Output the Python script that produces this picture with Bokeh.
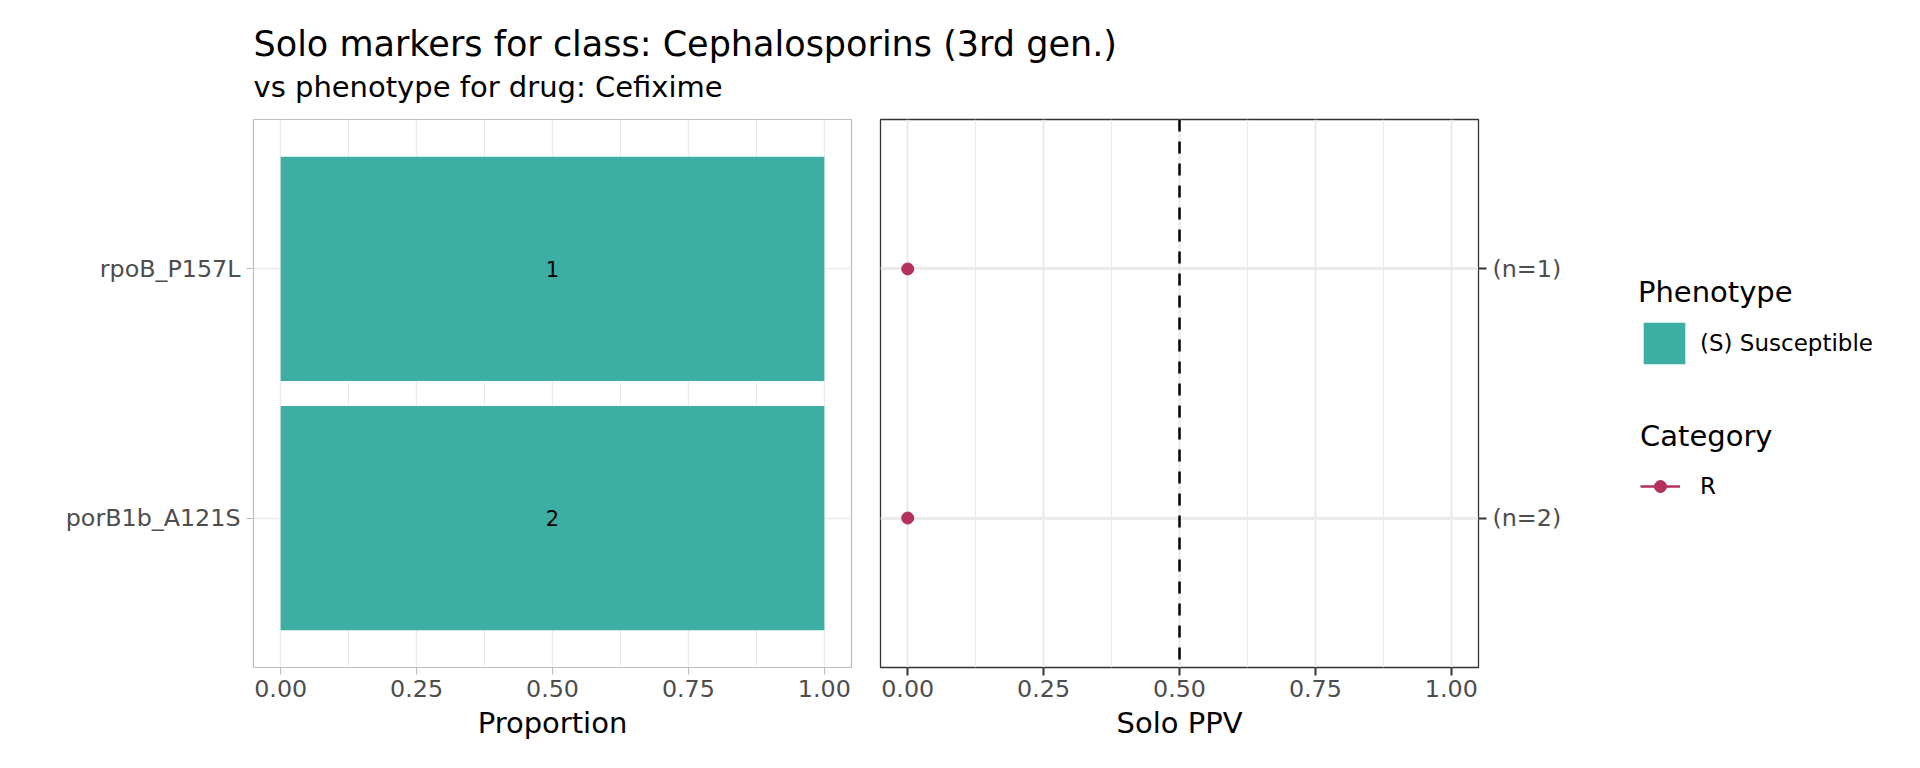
from bokeh.plotting import figure
from bokeh.layouts import column, row
from bokeh.models import (FactorRange, Range1d, FixedTicker, PrintfTickFormatter, Span,
                          Legend, LegendItem, Label, ColumnDataSource, CategoricalAxis)
from bokeh.embed import file_html
from bokeh.resources import INLINE

# ---------------- data ----------------
markers = ["porB1b_A121S", "rpoB_P157L"]          # bottom -> top
proportion_S = [1.0, 1.0]                         # (S) Susceptible proportion
n_counts = [2, 1]
solo_ppv = [0.0, 0.0]
x_ticks = [0.0, 0.25, 0.5, 0.75, 1.0]
x_minor = [0.125, 0.375, 0.625, 0.875]
ppv_threshold = 0.5
phenotype_label = "(S) Susceptible"
category_label = "R"
title_text = "Solo markers for class: Cephalosporins (3rd gen.)"
subtitle_text = "vs phenotype for drug: Cefixime"

TEAL = "#3DAEA4"
MAROON = "#B3305F"
FONT = "DejaVu Sans"
TICK_COL = "#4d4d4d"
TICK_SIZE = "23.8px"

# ---------------- title figure ----------------
tf = figure(width=1900, height=114, x_axis_type=None, y_axis_type=None,
            toolbar_location=None, output_backend="svg", min_border=0,
            x_range=Range1d(0, 1), y_range=Range1d(0, 1))
tf.outline_line_color = None
tf.grid.visible = False
tf.add_layout(Label(x=253, y=71, x_units="screen", y_units="screen", text=title_text,
                    text_font=FONT, text_font_size="35px", text_color="black",
                    text_baseline="alphabetic"))
tf.add_layout(Label(x=253, y=28, x_units="screen", y_units="screen", text=subtitle_text,
                    text_font=FONT, text_font_size="29px", text_color="black",
                    text_baseline="alphabetic"))

# ---------------- left panel ----------------
src = ColumnDataSource(dict(marker=markers, prop=proportion_S,
                            mid=[v * 0.5 for v in proportion_S],
                            lab=[str(n) for n in n_counts], ppv=solo_ppv))

p1 = figure(width=861, height=648, y_range=FactorRange(factors=markers, range_padding=0.1),
            x_range=Range1d(-0.05, 1.05), toolbar_location=None, output_backend="svg",
            min_border_left=253, min_border_right=10, min_border_top=5, min_border_bottom=95)
bars = p1.hbar(y="marker", left=0, right="prop", height=0.9, source=src,
               fill_color=TEAL, line_color=None)
p1.text(x="mid", y="marker", text="lab", source=src, text_align="center",
        text_baseline="middle", text_font_size="21px", text_color="black",
        text_font={"value": FONT})

p1.outline_line_color = "#bdbdbd"
p1.outline_line_width = 1.2
p1.xaxis.ticker = FixedTicker(ticks=x_ticks, minor_ticks=x_minor)
p1.xaxis.formatter = PrintfTickFormatter(format="%.2f")
p1.xaxis.axis_label = "Proportion"
for ax in (p1.xaxis[0], p1.yaxis[0]):
    ax.axis_line_color = None
    ax.major_tick_line_color = "#bdbdbd"
    ax.major_tick_line_width = 1
    ax.major_tick_out = 7
    ax.major_tick_in = 0
    ax.minor_tick_line_color = None
    ax.major_label_text_font = FONT
    ax.major_label_text_font_size = TICK_SIZE
    ax.major_label_text_color = TICK_COL
    ax.axis_label_text_font = FONT
    ax.axis_label_text_font_size = "29px"
    ax.axis_label_text_font_style = "normal"
    ax.axis_label_text_color = "black"
p1.xaxis.major_label_standoff = 5
p1.xaxis.axis_label_standoff = 6
p1.yaxis.major_label_standoff = 6
p1.xgrid.ticker = FixedTicker(ticks=x_ticks, minor_ticks=x_minor)
p1.xgrid.grid_line_color = "#ebebeb"
p1.xgrid.grid_line_width = 1.4
p1.xgrid.minor_grid_line_color = "#ebebeb"
p1.xgrid.minor_grid_line_width = 1
p1.ygrid.grid_line_color = "#ebebeb"
p1.ygrid.grid_line_width = 1.4

# ---------------- right panel ----------------
p2 = figure(width=737, height=648, y_range=p1.y_range, x_range=Range1d(-0.05, 1.05),
            toolbar_location=None, output_backend="svg", y_axis_location=None,
            min_border_left=19, min_border_right=120, min_border_top=5, min_border_bottom=95)
p2.extra_y_ranges = {"n": FactorRange(factors=[f"(n={n})" for n in n_counts],
                                      range_padding=0.1)}
p2.add_layout(CategoricalAxis(y_range_name="n"), "right")
p2.outline_line_color = "#333333"
p2.outline_line_width = 1.3
p2.xaxis.ticker = FixedTicker(ticks=x_ticks, minor_ticks=x_minor)
p2.xaxis.formatter = PrintfTickFormatter(format="%.2f")
p2.xaxis.axis_label = "Solo PPV"
for ax in (p2.xaxis[0], p2.yaxis[0]):
    ax.axis_line_color = None
    ax.major_tick_line_color = "#333333"
    ax.major_tick_line_width = 2
    ax.major_tick_out = 8
    ax.major_tick_in = 0
    ax.minor_tick_line_color = None
    ax.major_label_text_font = FONT
    ax.major_label_text_font_size = TICK_SIZE
    ax.major_label_text_color = TICK_COL
    ax.axis_label_text_font = FONT
    ax.axis_label_text_font_size = "29px"
    ax.axis_label_text_font_style = "normal"
    ax.axis_label_text_color = "black"
p2.xaxis.major_label_standoff = 4
p2.xaxis.axis_label_standoff = 6
p2.yaxis.major_label_standoff = 6
p2.xgrid.ticker = FixedTicker(ticks=x_ticks, minor_ticks=x_minor)
p2.xgrid.grid_line_color = "#ebebeb"
p2.xgrid.grid_line_width = 2.2
p2.xgrid.minor_grid_line_color = "#ebebeb"
p2.xgrid.minor_grid_line_width = 1.2
p2.ygrid.grid_line_color = "#ebebeb"
p2.ygrid.grid_line_width = 2.8

p2.add_layout(Span(location=ppv_threshold, dimension="height", line_color="black",
                   line_width=2.5, line_dash="12 10"))
pts = p2.scatter(x="ppv", y="marker", source=src, size=12, fill_color=MAROON,
                 line_color=MAROON)

# ---------------- legend figure ----------------
lf = figure(width=310, height=648, x_axis_type=None, y_axis_type=None,
            toolbar_location=None, output_backend="svg", min_border=0,
            x_range=Range1d(0, 1), y_range=Range1d(0, 1))
lf.outline_line_color = None
lf.grid.visible = False
# hidden renderers, used only to draw the legend keys
key_bar = lf.hbar(y=[0], left=[0], right=[proportion_S[0]], height=1,
                  fill_color=TEAL, line_color=None, visible=False)
key_line = lf.line(x=[0, solo_ppv[0]], y=[0, 0], line_color=MAROON, line_width=2.5,
                   visible=False)
key_pt = lf.scatter(x=[solo_ppv[0]], y=[0], size=12, fill_color=MAROON,
                    line_color=MAROON, visible=False)

common = dict(orientation="vertical", padding=0, margin=0, spacing=0,
              border_line_color=None, background_fill_alpha=0,
              label_text_font=FONT, label_text_font_size="23px", label_text_color="black",
              title_text_font=FONT, title_text_font_size="29px",
              title_text_font_style="normal", title_text_color="black")
leg1 = Legend(items=[LegendItem(label=phenotype_label, renderers=[key_bar])],
              title="Phenotype", location=(40, 298), glyph_width=52, glyph_height=52,
              label_standoff=10, title_standoff=8, **common)
leg2 = Legend(items=[LegendItem(label=category_label, renderers=[key_line, key_pt])],
              title="Category", location=(42, 166), glyph_width=40, glyph_height=30,
              label_standoff=20, title_standoff=18, **common)
lf.add_layout(leg1, "center")
lf.add_layout(leg2, "center")

layout = column(tf, row(p1, p2, lf, spacing=0), spacing=0)
open("out.html", "w").write(file_html(layout, INLINE))
